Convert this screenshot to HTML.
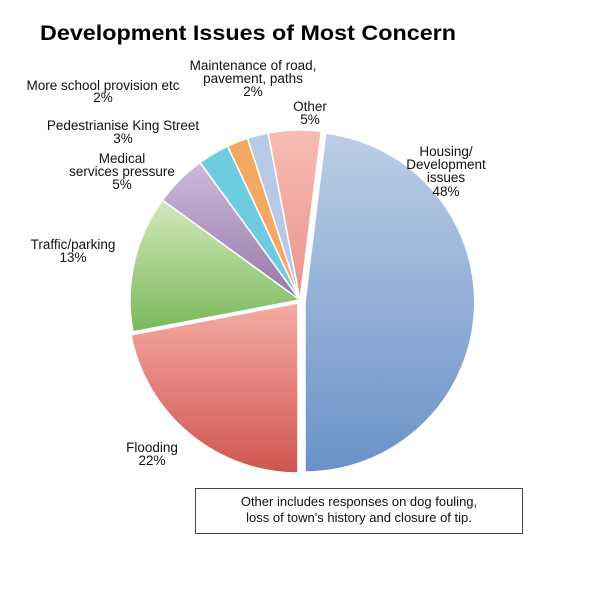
<!DOCTYPE html>
<html><head><meta charset="utf-8"><style>
html,body{margin:0;padding:0;background:#fff;}
svg{display:block;font-family:"Liberation Sans",Arial,sans-serif;}
</style></head><body>
<svg width="604" height="604" viewBox="0 0 604 604" xmlns="http://www.w3.org/2000/svg">
<defs>
<linearGradient id="gH" x1="0" y1="0" x2="0" y2="1"><stop offset="0" stop-color="#bccde6"/><stop offset="1" stop-color="#6a92c8"/></linearGradient>
<linearGradient id="gF" x1="0" y1="0" x2="0" y2="1"><stop offset="0" stop-color="#f5aba3"/><stop offset="1" stop-color="#cf5650"/></linearGradient>
<linearGradient id="gT" x1="0" y1="0" x2="0" y2="1"><stop offset="0" stop-color="#d3e8bc"/><stop offset="1" stop-color="#78b95a"/></linearGradient>
<linearGradient id="gM" x1="0" y1="0" x2="0" y2="1"><stop offset="0" stop-color="#cdb9d9"/><stop offset="1" stop-color="#9577ab"/></linearGradient>
<linearGradient id="gO" x1="0" y1="0" x2="0" y2="1"><stop offset="0" stop-color="#f7bcb4"/><stop offset="1" stop-color="#e9948b"/></linearGradient>
</defs>
<text x="40" y="40" font-size="21" font-weight="bold" fill="#000" textLength="416" lengthAdjust="spacingAndGlyphs">Development Issues of Most Concern</text>
<g stroke="#fff" stroke-width="1.5" stroke-linejoin="round">
<path d="M305,302 L325.7,133.3 A170,170 0 0 1 305,472 Z" fill="url(#gH)"/>
<path d="M298,303 L298,473 A170,170 0 0 1 131,334.9 Z" fill="url(#gF)"/>
<path d="M300,300 L133,331.9 A170,170 0 0 1 162.5,200.1 Z" fill="url(#gT)"/>
<path d="M300,300 L162.5,200.1 A170,170 0 0 1 200.1,162.5 Z" fill="url(#gM)"/>
<path d="M300,300 L200.1,162.5 A170,170 0 0 1 227.6,146.2 Z" fill="#6fcbe0"/>
<path d="M300,300 L227.6,146.2 A170,170 0 0 1 247.5,138.3 Z" fill="#f5a862"/>
<path d="M300,300 L247.5,138.3 A170,170 0 0 1 268.1,133 Z" fill="#b8c9e6"/>
<path d="M300,300 L268.1,133 A170,170 0 0 1 321.3,131.3 Z" fill="url(#gO)"/>
</g>
<g font-size="13.5" fill="#111" text-anchor="middle">
<text x="103" y="90">More school provision etc</text><text x="103" y="102">2%</text>
<text x="253" y="70">Maintenance of road,</text><text x="253" y="83">pavement, paths</text><text x="253" y="96">2%</text>
<text x="310" y="111">Other</text><text x="310" y="124">5%</text>
<text x="123" y="130">Pedestrianise King Street</text><text x="123" y="143">3%</text>
<text x="122" y="163">Medical</text><text x="122" y="176">services pressure</text><text x="122" y="189">5%</text>
<text x="73" y="249">Traffic/parking</text><text x="73" y="262">13%</text>
<text x="152" y="452">Flooding</text><text x="152" y="465">22%</text>
<text x="446" y="156">Housing/</text><text x="446" y="169">Development</text><text x="446" y="182">issues</text><text x="446" y="196">48%</text>
</g>
<rect x="195.5" y="488.5" width="327" height="45" fill="#fff" stroke="#444" stroke-width="1"/>
<g font-size="13" fill="#111" text-anchor="middle">
<text x="359" y="506">Other includes responses on dog fouling,</text>
<text x="359" y="522">loss of town's history and closure of tip.</text>
</g>
</svg>
</body></html>
